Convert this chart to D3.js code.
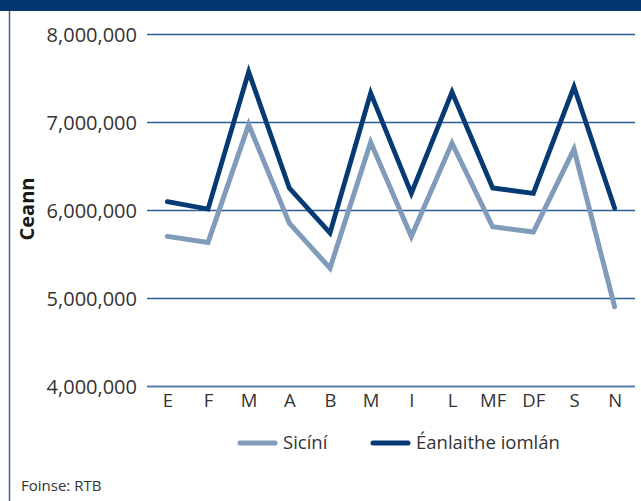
<!DOCTYPE html>
<html>
<head>
<meta charset="utf-8">
<script src="https://cdn.jsdelivr.net/npm/d3@7"></script>
<style>
  html, body { margin: 0; padding: 0; background: #fff; }
  svg { display: block; font-family: "Open Sans", "Noto Sans", sans-serif; }
</style>
</head>
<body>
<svg id="chart" width="641" height="501"></svg>
<script>
const categories = ["E", "F", "M", "A", "B", "M", "I", "L", "MF", "DF", "S", "N"];
const sicini = [5700000, 5630000, 6970000, 5850000, 5340000, 6770000, 5700000, 6760000, 5810000, 5750000, 6690000, 4900000];
const eanlaitheIomlan = [6094000, 6010000, 7570000, 6250000, 5740000, 7330000, 6190000, 7340000, 6250000, 6190000, 7400000, 6020000];
const yTicks = [4000000, 5000000, 6000000, 7000000, 8000000];
const seriesNames = ["Sicíní", "Éanlaithe iomlán"];
const sourceText = "Foinse: RTB";
const yTitle = "Ceann";

const colors = { light: "#809cba", dark: "#053a75", grid: "#2f5c92", text: "#333333" };

const svg = d3.select("#chart");
const plotLeft = 147, plotRight = 635, plotTop = 34, plotBottom = 386;

// frame
svg.append("rect").attr("x", 0).attr("y", 0).attr("width", 641).attr("height", 11).attr("fill", "#04376f");
svg.append("line").attr("x1", 9.5).attr("x2", 9.5).attr("y1", 11).attr("y2", 501)
  .attr("stroke", "#3d669c").attr("stroke-width", 1.5);

const idx = d3.range(categories.length);
const x = d3.scalePoint().domain(idx).range([plotLeft, plotRight]).padding(0.5);
const y = d3.scaleLinear().domain([4000000, 8000000]).range([plotBottom, plotTop]);

// gridlines
const grid = svg.append("g");
grid.selectAll("line").data(yTicks).join("line")
  .attr("x1", plotLeft).attr("x2", plotRight)
  .attr("y1", d => Math.round(y(d)) + 0.5).attr("y2", d => Math.round(y(d)) + 0.5)
  .attr("stroke", d => d === 4000000 ? "#5a7cab" : colors.grid)
  .attr("stroke-width", d => d === 4000000 ? 2 : 1.3);

// y axis labels
const yAxis = d3.axisLeft(y).tickValues(yTicks).tickFormat(d3.format(",")).tickSize(0).tickPadding(10);
const yg = svg.append("g").attr("transform", `translate(${plotLeft},0)`).call(yAxis);
yg.select(".domain").remove();
yg.selectAll("text").attr("fill", colors.text).style("font-size", "20px")
  .style("font-family", "'Open Sans', sans-serif").attr("dy", "0.35em");

// x axis labels
const xAxis = d3.axisBottom(x).tickFormat(i => categories[i]).tickSize(0).tickPadding(8);
const xg = svg.append("g").attr("transform", `translate(0,${plotBottom})`).call(xAxis);
xg.select(".domain").remove();
xg.selectAll("text").attr("fill", colors.text).style("font-size", "18.5px")
  .style("font-family", "'Open Sans', sans-serif");

// y title
svg.append("text").attr("transform", "translate(27,209) rotate(-90)")
  .attr("text-anchor", "middle").attr("dy", "0.35em").attr("fill", "#1a1a1a")
  .style("font-size", "20px").style("font-weight", "bold").text(yTitle);

// lines
const line = d3.line().x((d, i) => x(i)).y(d => y(d));
svg.append("path").datum(sicini).attr("d", line).attr("fill", "none")
  .attr("stroke", colors.light).attr("stroke-width", 5).attr("stroke-linecap", "round").attr("stroke-linejoin", "miter");
svg.append("path").datum(eanlaitheIomlan).attr("d", line).attr("fill", "none")
  .attr("stroke", colors.dark).attr("stroke-width", 4.8).attr("stroke-linecap", "round").attr("stroke-linejoin", "miter");

// legend
const legend = [
  { name: seriesNames[0], color: colors.light, x: 240 },
  { name: seriesNames[1], color: colors.dark, x: 373 }
];
const lg = svg.append("g");
legend.forEach(l => {
  lg.append("line").attr("x1", l.x).attr("x2", l.x + 35).attr("y1", 443).attr("y2", 443)
    .attr("stroke", l.color).attr("stroke-width", 5).attr("stroke-linecap", "round");
  lg.append("text").attr("x", l.x + 43).attr("y", 443).attr("dy", "0.35em")
    .attr("fill", colors.text).style("font-size", "18.5px").text(l.name);
});

// source
svg.append("text").attr("x", 21).attr("y", 491).attr("fill", colors.text)
  .style("font-size", "15px").text(sourceText);
</script>
</body>
</html>
